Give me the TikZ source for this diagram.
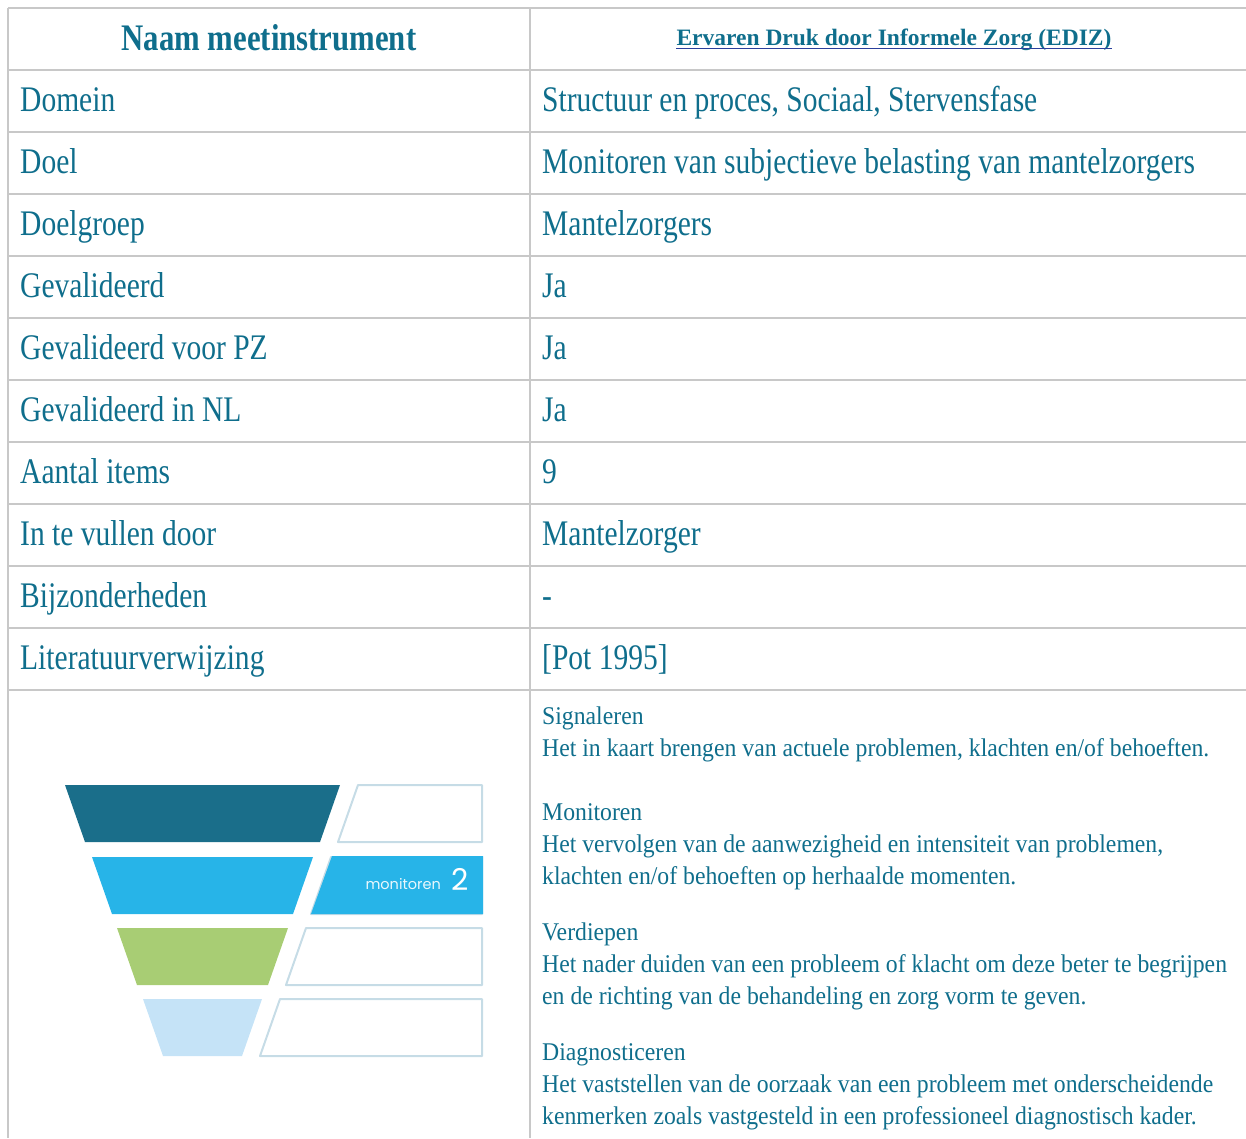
\documentclass[tikz,border=0pt]{standalone}
\usepackage{fontspec}
\setmainfont{Liberation Serif}[FakeStretch=0.82]
\newfontfamily\wideserif{Liberation Serif}
\newfontfamily\levelserif{Liberation Serif}[FakeStretch=0.93]
\newfontfamily\funnelsans{Poppins}
\definecolor{txt}{HTML}{0F6E8C}
\definecolor{rule}{HTML}{C8C8C8}
\definecolor{linkblue}{HTML}{2A3F9C}
\definecolor{fdark}{HTML}{1A6E8A}
\definecolor{fcyan}{HTML}{27B4E8}
\definecolor{fgreen}{HTML}{A8CD74}
\definecolor{flight}{HTML}{C5E3F7}
\definecolor{fedge}{HTML}{C6DCE6}
\tikzset{
  rulegray/.style={draw=rule, line width=2pt},
  celltext/.style={anchor=base west, inner sep=0pt, text=txt, font=\fontsize{36}{40}\selectfont},
  smalltext/.style={anchor=base west, inner sep=0pt, text=txt, font=\levelserif\fontsize{25.5}{30}\selectfont},
  boxedge/.style={draw=fedge, line width=2pt},
}
\begin{document}
\begin{tikzpicture}[x=1pt, y=-1pt, line join=round]
    \useasboundingbox (0,0) rectangle (1246,1138);
    % table rules
    \foreach \k in {0,...,11}
    \draw[rulegray] (8,{8+62*\k}) -- (1246,{8+62*\k});
    \draw[rulegray] (8,8) -- (8,1138) (530,8) -- (530,1138);
    % header
    \node[celltext, anchor=base, font=\bfseries\fontsize{37.5}{40}\selectfont] (naam) at (269,50) {Naam meetinstrument};
    \node[anchor=base, inner sep=0pt, text=txt, font=\wideserif\bfseries\fontsize{23.5}{28}\selectfont] (ediz) at (894,45) {Ervaren Druk door Informele Zorg (EDIZ)};
    \draw[linkblue, line width=1.5pt] ([yshift=-3.5pt]ediz.base west) -- ([yshift=-3.5pt]ediz.base east);
    % rows
    \foreach \lab/\val [count=\k] in {Domein/{Structuur en proces, Sociaal, Stervensfase},
      Doel/Monitoren van subjectieve belasting van mantelzorgers, Doelgroep/Mantelzorgers,
      Gevalideerd/Ja, Gevalideerd voor PZ/Ja, Gevalideerd in NL/Ja, Aantal items/9,
      In te vullen door/Mantelzorger, Bijzonderheden/-, Literatuurverwijzing/{[Pot 1995]}}{
      \node[celltext] (lab\k) at (20,{49+62*\k}) {\lab};
      \node[celltext] (val\k) at (542,{49+62*\k}) {\val};
    }
    % funnel
    \foreach \t/\l/\r/\col in {785/65/340/fdark, 857/92/313/fcyan, 928/117/288/fgreen, 999/143/262/flight}{
      \fill[\col] (\l,\t) -- (\r,\t) -- (\r-20,\t+57) -- (\l+20,\t+57) -- cycle;
      \draw[boxedge] (\r+18,\t) -- (482,\t) -- (482,\t+57) -- (\r-2,\t+57) -- cycle;
    }
    \fill[fcyan] (332,856) -- (483,856) -- (483,914) -- (311,914) -- cycle;
    \node[anchor=base east, inner sep=0pt, text=white, opacity=0.9, font=\funnelsans\fontsize{14.5}{16}\selectfont] (mon) at (441,889) {monitoren};
    \node[anchor=base west, inner sep=0pt, text=white, font=\funnelsans\fontsize{30}{32}\selectfont] (two) at (451,890) {2};
    % levels
    \foreach \ya/\line [count=\j] in {724/Signaleren,
      756/{Het in kaart brengen van actuele problemen, klachten en/of behoeften.},
      820/Monitoren,
      852/{Het vervolgen van de aanwezigheid en intensiteit van problemen,},
      884/{klachten en/of behoeften op herhaalde momenten.},
      940/Verdiepen,
      972/Het nader duiden van een probleem of klacht om deze beter te begrijpen,
      1004/en de richting van de behandeling en zorg vorm te geven.,
      1060/Diagnosticeren,
      1092/Het vaststellen van de oorzaak van een probleem met onderscheidende,
      1124/kenmerken zoals vastgesteld in een professioneel diagnostisch kader.}
    \node[smalltext] (lvl\j) at (542,\ya) {\line};
\end{tikzpicture}
\end{document}
